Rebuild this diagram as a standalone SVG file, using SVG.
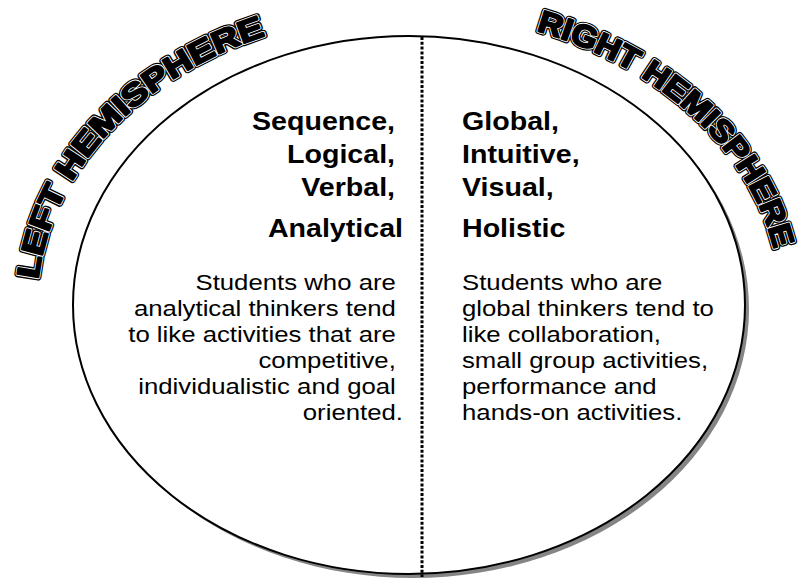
<svg xmlns="http://www.w3.org/2000/svg" width="803" height="579" viewBox="0 0 803 579">
  <style>
    .hdr { font-family: "Liberation Sans", Arial, sans-serif; font-weight: bold; font-size: 26px; fill: #000; }
    .txt { font-family: "Liberation Sans", Arial, sans-serif; font-size: 23px; fill: #000; }
    .arc { font-family: "Liberation Sans", Arial, sans-serif; font-weight: bold; font-size: 31px; stroke-linejoin: round; }
    .arc-back { fill: #000; stroke: #000; stroke-width: 6; }
    .arc-mid { fill: #fff; stroke: #fff; stroke-width: 3.6; }
    .arc-front { fill: #000; stroke: #000; stroke-width: 2; }
  </style>
  <defs>
    <!-- baselines for the curved titles, concentric with the outline -->
    <path id="leftArc" d="M 38.4 279.6 A 372 292 0 0 1 281.8 30.6" fill="none"/>
    <path id="rightArc" d="M 536.2 30.6 A 372 292 0 0 1 775.3 254.3" fill="none"/>
  </defs>

  <rect width="803" height="579" fill="#fff"/>

  <!-- brain outline with drop shadow -->
  <g id="outline">
    <ellipse cx="413" cy="309" rx="336" ry="269" fill="#858585"/>
    <ellipse cx="409" cy="305" rx="336" ry="269" fill="#fff" stroke="#000" stroke-width="2"/>
  </g>

  <!-- divider between the hemispheres -->
  <g id="connectors">
    <line x1="422" y1="37" x2="422" y2="577" stroke="#000" stroke-width="3" stroke-dasharray="3 1.8"/>
  </g>

  <g id="left-title">
    <text class="arc arc-back"><textPath href="#leftArc" textLength="352" lengthAdjust="spacingAndGlyphs">LEFT HEMISPHERE</textPath></text>
    <text class="arc arc-mid"><textPath href="#leftArc" textLength="352" lengthAdjust="spacingAndGlyphs">LEFT HEMISPHERE</textPath></text>
    <text class="arc arc-front"><textPath href="#leftArc" textLength="352" lengthAdjust="spacingAndGlyphs">LEFT HEMISPHERE</textPath></text>
  </g>

  <g id="right-title">
    <text class="arc arc-back"><textPath href="#rightArc" textLength="338" lengthAdjust="spacingAndGlyphs">RIGHT HEMISPHERE</textPath></text>
    <text class="arc arc-mid"><textPath href="#rightArc" textLength="338" lengthAdjust="spacingAndGlyphs">RIGHT HEMISPHERE</textPath></text>
    <text class="arc arc-front"><textPath href="#rightArc" textLength="338" lengthAdjust="spacingAndGlyphs">RIGHT HEMISPHERE</textPath></text>
  </g>

  <g id="left-traits" transform="translate(403 0) scale(1.1 1)">
    <text class="hdr" text-anchor="end">
      <tspan x="0" y="130">Sequence,</tspan>
      <tspan x="0" y="163">Logical,</tspan>
      <tspan x="0" y="196">Verbal,</tspan>
      <tspan x="0" y="237">Analytical</tspan>
    </text>
  </g>

  <g id="right-traits" transform="translate(462 0) scale(1.1 1)">
    <text class="hdr">
      <tspan x="0" y="130">Global,</tspan>
      <tspan x="0" y="163">Intuitive,</tspan>
      <tspan x="0" y="196">Visual,</tspan>
      <tspan x="0" y="237">Holistic</tspan>
    </text>
  </g>

  <g id="left-note" transform="translate(403 0) scale(1.12 1)">
    <text class="txt" text-anchor="end">
      <tspan x="0" y="290">Students who are</tspan>
      <tspan x="0" y="316">analytical thinkers tend</tspan>
      <tspan x="0" y="342">to like activities that are</tspan>
      <tspan x="0" y="368">competitive,</tspan>
      <tspan x="0" y="394">individualistic and goal</tspan>
      <tspan x="0" y="420">oriented.</tspan>
    </text>
  </g>

  <g id="right-note" transform="translate(462 0) scale(1.12 1)">
    <text class="txt">
      <tspan x="0" y="290">Students who are</tspan>
      <tspan x="0" y="316">global thinkers tend to</tspan>
      <tspan x="0" y="342">like collaboration,</tspan>
      <tspan x="0" y="368">small group activities,</tspan>
      <tspan x="0" y="394">performance and</tspan>
      <tspan x="0" y="420">hands-on activities.</tspan>
    </text>
  </g>
</svg>
